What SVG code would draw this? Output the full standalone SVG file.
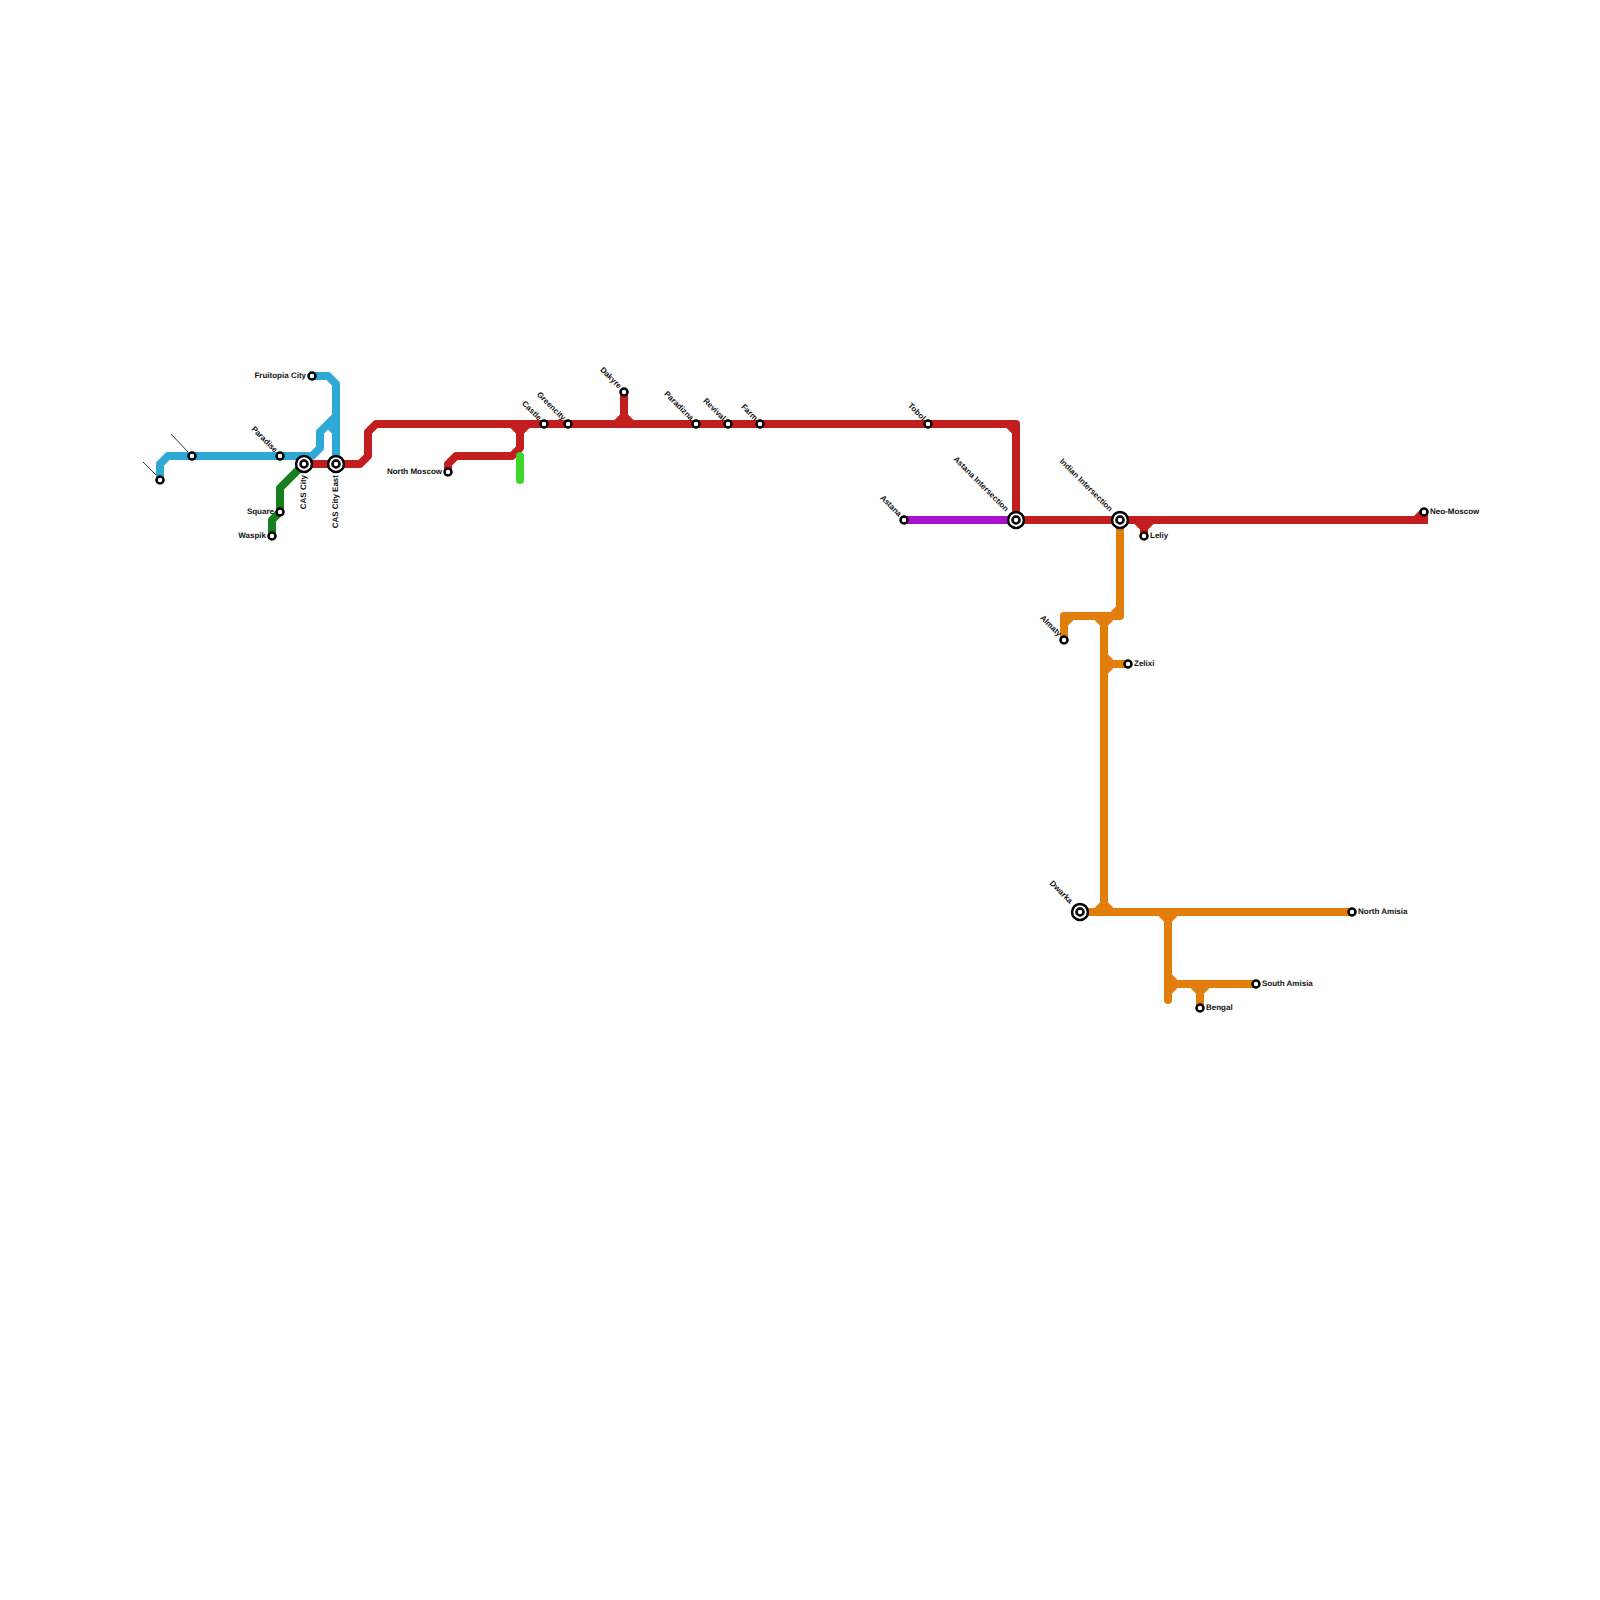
<svg xmlns="http://www.w3.org/2000/svg" width="1600" height="1600" viewBox="0 0 1600 1600">
<style>
.l{fill:none;stroke-width:8;stroke-linejoin:round}
.r{stroke:#c21d1f}.b{stroke:#2fa8d5}.o{stroke:#e27f0c}.g{stroke:#17801e}
.s{fill:#fff;stroke:#000;stroke-width:2.5}
.t{font-family:"Liberation Sans",Arial,sans-serif;font-size:8px;font-weight:700;fill:#111;text-rendering:geometricPrecision}
.e{text-anchor:end}
.lead{stroke:#333;stroke-width:1;fill:none}
</style>
<rect width="1600" height="1600" fill="#fff"/>
<g id="connectors">
<path class="l b" d="M160 480V464L168 456H312L320 448V432L336 416M328 424L336 432"/>
<path class="l b" d="M312 376H328L336 384V464"/>
<path class="l g" d="M304 464L280 488V512L272 520V536"/>
<path class="l r" d="M304 464H360L368 456V432L376 424H1016V520"/>
<path class="l r" d="M1008 424L1016 432"/>
<path class="l r" d="M448 472V464L456 456H512L520 448V432L512 424M520 432L528 424"/>
<path class="l r" d="M624 392V416L616 424M624 416L632 424"/>
<path class="l r" d="M1016 520H1420"/>
<path fill="#c21d1f" d="M1414 516L1421 509L1428 512V524H1414Z"/>
<path class="l r" d="M1136 520L1144 528L1152 520M1144 520V536"/>
<path class="l" stroke="#aa10d0" d="M904 520H1016"/>
<path class="l" stroke="#3fd62a" stroke-linecap="round" d="M520 456V480"/>
<path class="l o" d="M1120 520V616H1064V640M1064 624L1072 616M1120 608L1112 616"/>
<path class="l o" d="M1096 616L1104 624L1112 616M1104 616V904M1104 664H1128M1104 656L1112 664L1104 672"/>
<path class="l o" d="M1080 912H1352M1096 912L1104 904L1112 912"/>
<path class="l o" d="M1160 912L1168 920L1176 912"/>
<path class="l o" stroke-linecap="round" d="M1168 916V1000"/>
<path class="l o" d="M1168 984H1256M1168 976L1176 984L1168 992M1192 984L1200 992L1208 984M1200 984V1008"/>
<path class="lead" d="M143 462L156 475M171 434L188 452"/>
</g>
<g id="n1"><circle class="s" cx="160" cy="480" r="3.5"/></g>
<g id="n2"><circle class="s" cx="192" cy="456" r="3.5"/></g>
<g id="paradise"><circle class="s" cx="280" cy="456" r="3.5"/><text class="t e" transform="translate(274.500 453) rotate(45)">Paradise</text></g>
<g id="cas-city"><circle class="s" cx="304" cy="464" r="8"/><circle class="s" cx="304" cy="464" r="3.5"/><text class="t e" transform="translate(306 475) rotate(-90)">CAS City</text></g>
<g id="cas-city-east"><circle class="s" cx="336" cy="464" r="8"/><circle class="s" cx="336" cy="464" r="3.5"/><text class="t e" transform="translate(338 475) rotate(-90)">CAS City East</text></g>
<g id="fruitopia"><circle class="s" cx="312" cy="376" r="3.5"/><text class="t e" x="306" y="377.500">Fruitopia City</text></g>
<g id="square"><circle class="s" cx="280" cy="512" r="3.5"/><text class="t e" x="274" y="513.500">Square</text></g>
<g id="waspik"><circle class="s" cx="272" cy="536" r="3.500"/><text class="t e" x="266" y="537.500">Waspik</text></g>
<g id="north-moscow"><circle class="s" cx="448" cy="472" r="3.5"/><text class="t e" x="442" y="473.500">North Moscow</text></g>
<g id="castle"><circle class="s" cx="544" cy="424" r="3.5"/><text class="t e" transform="translate(538.500 421) rotate(45)">Castle</text></g>
<g id="greencity"><circle class="s" cx="568" cy="424" r="3.5"/><text class="t e" transform="translate(562.500 421) rotate(45)">Greencity</text></g>
<g id="dakyre"><circle class="s" cx="624" cy="392" r="3.5"/><text class="t e" transform="translate(618.500 389) rotate(45)">Dakyre</text></g>
<g id="paradizna"><circle class="s" cx="696" cy="424" r="3.5"/><text class="t e" transform="translate(690.500 421) rotate(45)">Paradizna</text></g>
<g id="revival"><circle class="s" cx="728" cy="424" r="3.5"/><text class="t e" transform="translate(722.500 421) rotate(45)">Revival</text></g>
<g id="farm"><circle class="s" cx="760" cy="424" r="3.5"/><text class="t e" transform="translate(754.500 421) rotate(45)">Farm</text></g>
<g id="tobol"><circle class="s" cx="928" cy="424" r="3.5"/><text class="t e" transform="translate(922.500 421) rotate(45)">Tobol</text></g>
<g id="astana"><circle class="s" cx="904" cy="520" r="3.5"/><text class="t e" transform="translate(898.500 517) rotate(45)">Astana</text></g>
<g id="astana-int"><circle class="s" cx="1016" cy="520" r="8"/><circle class="s" cx="1016" cy="520" r="3.5"/><text class="t e" transform="translate(1005.500 512) rotate(45)">Astana Intersection</text></g>
<g id="indian-int"><circle class="s" cx="1120" cy="520" r="8"/><circle class="s" cx="1120" cy="520" r="3.5"/><text class="t e" transform="translate(1109.500 512) rotate(45)">Indian Intersection</text></g>
<g id="leliy"><circle class="s" cx="1144" cy="536" r="3.5"/><text class="t" x="1150" y="537.500">Leliy</text></g>
<g id="neo-moscow"><circle class="s" cx="1424" cy="512" r="3.5"/><text class="t" x="1430" y="513.500">Neo-Moscow</text></g>
<g id="almaty"><circle class="s" cx="1064" cy="640" r="3.5"/><text class="t e" transform="translate(1058.500 637) rotate(45)">Almaty</text></g>
<g id="zelixi"><circle class="s" cx="1128" cy="664" r="3.5"/><text class="t" x="1134" y="665.500">Zelixi</text></g>
<g id="dwarka"><circle class="s" cx="1080" cy="912" r="8"/><circle class="s" cx="1080" cy="912" r="3.5"/><text class="t e" transform="translate(1069.500 904) rotate(45)">Dwarka</text></g>
<g id="north-amisia"><circle class="s" cx="1352" cy="912" r="3.5"/><text class="t" x="1358" y="913.500">North Amisia</text></g>
<g id="south-amisia"><circle class="s" cx="1256" cy="984" r="3.5"/><text class="t" x="1262" y="985.500">South Amisia</text></g>
<g id="bengal"><circle class="s" cx="1200" cy="1008" r="3.5"/><text class="t" x="1206" y="1009.500">Bengal</text></g>
</svg>
